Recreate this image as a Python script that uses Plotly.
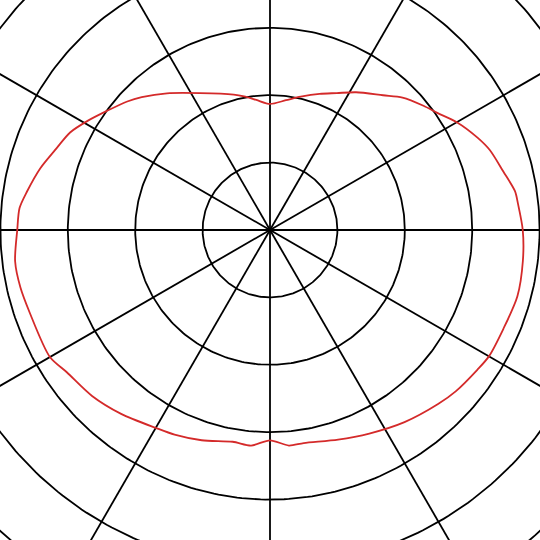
import numpy as np
import plotly.graph_objects as go

# measured curve, angle in degrees (counter-clockwise from east), radius in ring units
theta_deg = [0, 6, 9, 14, 20, 24, 30, 35, 39, 45, 50, 58, 64, 70, 77, 83, 90,
             96, 101, 105, 117, 127, 134, 138, 144, 149, 154, 159, 165, 171, 175, 180,
             187, 193, 199, 210, 215, 223, 231, 240, 245, 252, 260, 265, 270,
             275, 279, 288, 296, 305, 314, 319, 326, 330, 337, 345, 353, 360]
r_vals = [3.75, 3.70, 3.68, 3.57, 3.47, 3.37, 3.20, 3.03, 2.93, 2.78, 2.61, 2.41, 2.26, 2.15, 2.03, 1.94, 1.87,
          1.94, 2.02, 2.08, 2.28, 2.54, 2.74, 2.85, 3.00, 3.15, 3.30, 3.39, 3.53, 3.65, 3.73, 3.75,
          3.81, 3.80, 3.77, 3.77, 3.68, 3.61, 3.51, 3.39, 3.35, 3.28, 3.19, 3.21, 3.12,
          3.21, 3.20, 3.27, 3.36, 3.48, 3.59, 3.65, 3.71, 3.75, 3.76, 3.80, 3.78, 3.75]

ring_radii = [1, 2, 3, 4, 5, 6]
spoke_angles = [0, 30, 60, 90, 120, 150, 180, 210, 240, 270, 300, 330]
spoke_length = 7

px_per_unit = 67.4


def to_xy(r, deg):
    t = np.radians(deg)
    return np.asarray(r) * np.cos(t), np.asarray(r) * np.sin(t)


fig = go.Figure()

# grid circles
gx, gy = [], []
circ = np.arange(0, 361, 1)
for rr in ring_radii:
    x, y = to_xy(np.full(circ.shape, rr, dtype=float), circ)
    gx += list(x) + [None]
    gy += list(y) + [None]
# spokes
for a in spoke_angles:
    x, y = to_xy([0, spoke_length], [a, a])
    gx += list(x) + [None]
    gy += list(y) + [None]

fig.add_trace(go.Scatter(x=gx, y=gy, mode='lines',
                         line=dict(color='black', width=1.8),
                         hoverinfo='skip', showlegend=False))

cx, cy = to_xy(r_vals, theta_deg)
fig.add_trace(go.Scatter(x=cx, y=cy, mode='lines',
                         line=dict(color='#d42a2a', width=1.8, shape='spline', smoothing=0.8),
                         showlegend=False))

fig.update_layout(
    width=540, height=540,
    margin=dict(l=0, r=0, t=0, b=0),
    paper_bgcolor='white', plot_bgcolor='white',
    xaxis=dict(range=[-270 / px_per_unit, 270 / px_per_unit], visible=False, fixedrange=True),
    yaxis=dict(range=[-310 / px_per_unit, 230 / px_per_unit], visible=False, fixedrange=True),
)

# page margin off so the chart sits at the window edge
fig.write_html("out.html", config={'displayModeBar': False},
               post_script="document.body.style.margin='0';")
